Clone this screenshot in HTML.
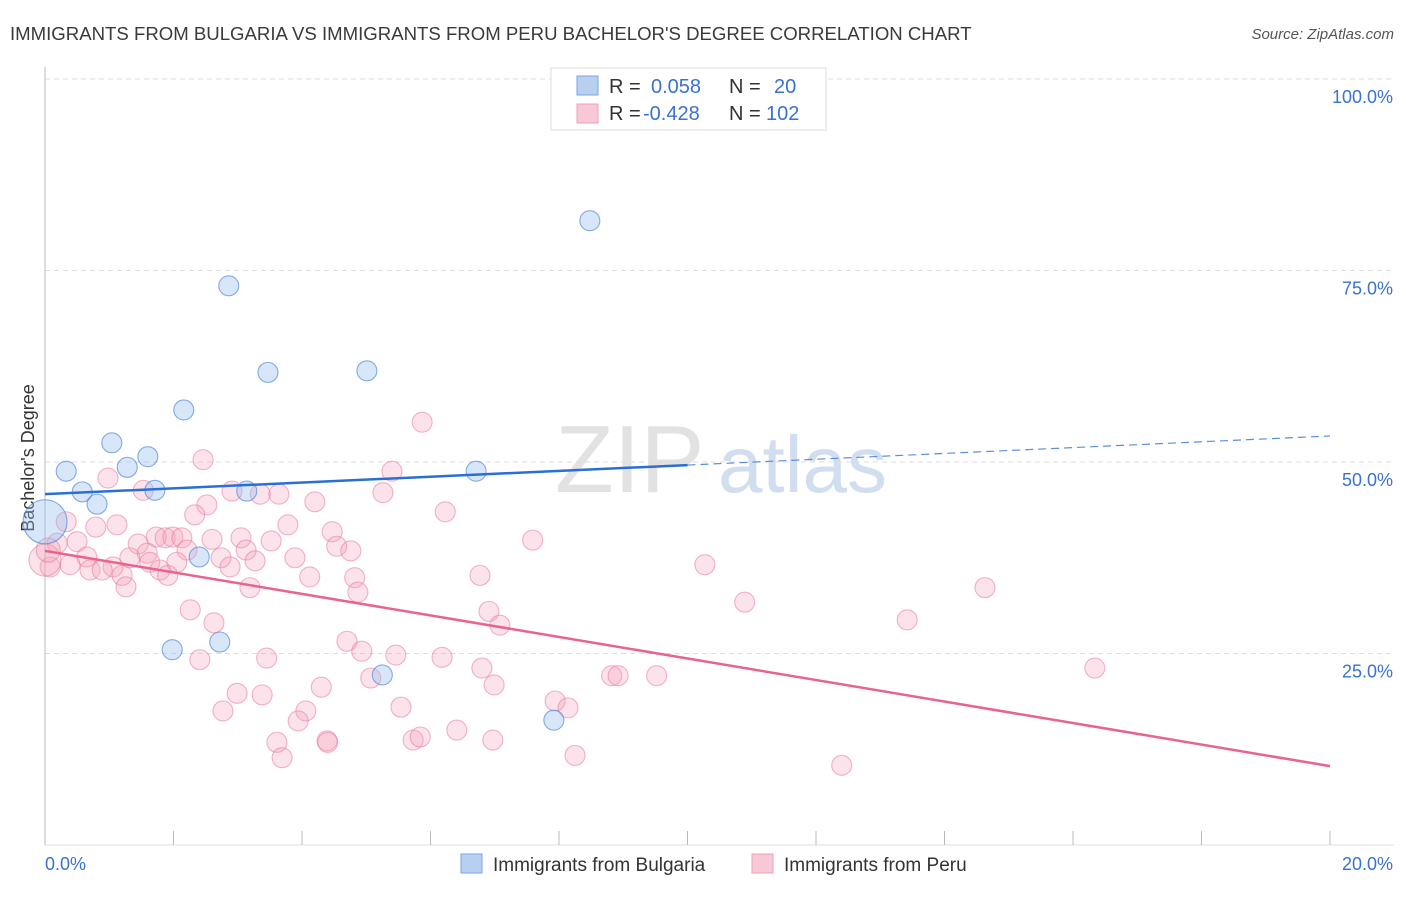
<!DOCTYPE html>
<html><head><meta charset="utf-8"><style>
body{margin:0;background:#fff;font-family:"Liberation Sans",sans-serif}
svg text{font-family:"Liberation Sans",sans-serif}
</style></head><body>
<svg id="chart" width="1406" height="892" xmlns="http://www.w3.org/2000/svg">
<text x="10" y="40" font-size="18.6" fill="#3a3a3a">IMMIGRANTS FROM BULGARIA VS IMMIGRANTS FROM PERU BACHELOR'S DEGREE CORRELATION CHART</text>
<text x="1394" y="39" font-size="15" fill="#555" text-anchor="end" font-style="italic">Source: ZipAtlas.com</text>
<text x="555" y="492" font-size="96" fill="#e2e2e2" font-family="Liberation Serif">ZIP</text>
<text x="718" y="492" font-size="80" fill="#d0def0">atlas</text>
<text transform="translate(34,458) rotate(-90)" font-size="18" fill="#333" text-anchor="middle">Bachelor's Degree</text>
<g id="grid"></g><g id="axes"></g><g id="pts"></g><g id="lines"></g>
<g>
<rect x="551" y="68" width="275" height="62" fill="#fff" stroke="#ddd"/>
<rect x="577" y="76" width="21" height="19" fill="#b8d0f0" stroke="#7aa6de"/>
<rect x="577" y="104" width="21" height="19" fill="#f9c8d6" stroke="#eea0b8"/>
<text x="609" y="93" font-size="20" fill="#333">R = </text><text x="651" y="93" font-size="20" fill="#3a72d0">0.058</text>
<text x="729" y="93" font-size="20" fill="#333">N = </text><text x="774" y="93" font-size="20" fill="#3a72d0">20</text>
<text x="609" y="120" font-size="20" fill="#333">R = </text><text x="643" y="120" font-size="20" fill="#3a72d0">-0.428</text>
<text x="729" y="120" font-size="20" fill="#333">N = </text><text x="766" y="120" font-size="20" fill="#3a72d0">102</text>
</g>
<g>
<rect x="461" y="854" width="21" height="19" fill="#b8d0f0" stroke="#7aa6de"/>
<text x="493" y="871" font-size="19" fill="#333">Immigrants from Bulgaria</text>
<rect x="752" y="854" width="21" height="19" fill="#f9c8d6" stroke="#eea0b8"/>
<text x="784" y="871" font-size="19" fill="#333">Immigrants from Peru</text>
</g>
</svg>
<script>
const blueX=[0.33,0.58,0.81,1.04,1.28,1.60,1.71,2.16,2.40,1.98,2.72,2.86,3.14,3.47,5.01,5.25,6.71,7.92,8.48,0.0];
const blueY=[48.8,46.1,44.5,52.5,49.3,50.7,46.3,56.8,37.6,25.5,26.5,73.0,46.2,61.7,61.9,22.2,48.8,16.3,81.5,42.2];
const pinkX=[2.46,0.98,1.53,2.91,3.35,3.64,4.20,5.40,5.26,6.23,2.52,2.33,0.33,0.79,1.12,3.78,4.47,2.60,3.05,3.52,4.54,4.76,1.73,1.87,1.99,2.13,1.45,0.50,0.19,2.21,1.59,1.32,3.13,2.74,3.27,3.89,2.88,2.05,1.63,1.06,0.65,0.39,0.08,0.70,0.89,1.20,1.79,1.91,1.26,4.12,4.82,4.87,3.19,2.26,2.63,4.70,4.93,5.46,6.18,2.41,3.45,5.07,4.30,2.99,3.38,5.54,4.06,3.94,2.77,6.41,5.73,5.84,3.61,4.39,4.40,3.69,5.87,7.59,6.77,6.91,7.08,6.99,6.80,6.97,7.94,8.14,8.25,8.82,8.92,9.52,10.27,10.89,12.40,13.42,14.63,16.34,0.0,0.05];
const pinkY=[50.3,47.9,46.3,46.2,45.8,45.8,44.8,48.8,46.0,43.5,44.4,43.1,42.2,41.5,41.8,41.8,40.9,39.9,40.1,39.7,39.0,38.4,40.2,40.1,40.2,40.1,39.3,39.6,39.4,38.5,38.1,37.5,38.5,37.5,37.1,37.5,36.3,36.9,36.9,36.3,37.6,36.6,36.3,35.9,35.9,35.2,35.9,35.2,33.7,35.0,34.9,33.0,33.6,30.7,29.0,26.6,25.3,24.8,24.5,24.2,24.4,21.8,20.6,19.8,19.6,18.0,17.5,16.2,17.5,15.0,13.7,14.1,13.4,13.6,13.4,11.4,55.2,39.8,35.2,30.5,28.7,20.9,23.1,13.7,18.8,17.9,11.7,22.1,22.1,22.1,36.6,31.7,10.4,29.4,33.6,23.1,37.2,38.5];
const yTicks=[25,50,75,100];
const xTicks=[0,2,4,6,8,10,12,14,16,18,20];
const blueTrend=[45.8,53.4];
const pinkTrend=[38.4,10.3];
const NS='http://www.w3.org/2000/svg';
const X=v=>45+v/20*1285, Y=v=>845-v/100*766;
function mk(tag,attrs,parent){const e=document.createElementNS(NS,tag);for(const k in attrs)e.setAttribute(k,attrs[k]);document.getElementById(parent).appendChild(e);return e;}
yTicks.forEach(t=>{
 const l=mk('line',{x1:45,x2:1394,y1:Y(t),y2:Y(t),stroke:'#ddd','stroke-dasharray':'5,4'},'grid');
 
 
 const tx=mk('text',{x:1393,y:Y(t)+24,'font-size':18,fill:'#3a72d0','text-anchor':'end'},'grid');
 tx.textContent=t.toFixed(1)+'%';
 
 
});
const ax=mk('line',{x1:45,x2:45,y1:67,y2:845,stroke:'#bbb'},'axes');


const bx=mk('line',{x1:45,x2:1394,y1:845,y2:845,stroke:'#ddd'},'axes');


xTicks.forEach(t=>{
 const l=mk('line',{x1:X(t),x2:X(t),y1:831,y2:845,stroke:'#bbb'},'axes');
 
 
});
[[0,'start',45],[20,'end',1393]].forEach(([t,a,px])=>{
 const tx=mk('text',{x:px,y:870,'font-size':18,fill:'#3a72d0','text-anchor':a},'axes');
 tx.textContent=t.toFixed(1)+'%';
 
 
});
pinkX.forEach((x,i)=>{
 const big=i>=pinkX.length-2;
 const c=mk('circle',{cx:X(x),cy:Y(pinkY[i]),r:big?(i==pinkX.length-2?16:12):10,fill:'rgba(244,160,186,0.3)',stroke:'rgba(232,120,155,0.55)','stroke-width':1.1},'pts');
 
 
});
blueX.forEach((x,i)=>{
 const big=i==blueX.length-1;
 const c=mk('circle',{cx:X(x),cy:Y(blueY[i]),r:big?22:10,fill:'rgba(150,188,240,0.38)',stroke:'rgba(70,130,215,0.65)','stroke-width':1.1},'pts');
 
 
});
const by=x=>blueTrend[0]+(blueTrend[1]-blueTrend[0])*x/20;
const b1=mk('line',{x1:X(0),y1:Y(by(0)),x2:X(10),y2:Y(by(10)),stroke:'#2a6fd6','stroke-width':2.5},'lines');


const b2=mk('line',{x1:X(10),y1:Y(by(10)),x2:X(20),y2:Y(by(20)),stroke:'#5a8fdc','stroke-width':1.2,'stroke-dasharray':'8,5'},'lines');


const p1=mk('line',{x1:X(0),y1:Y(pinkTrend[0]),x2:X(20),y2:Y(pinkTrend[1]),stroke:'#e8648e','stroke-width':2.5},'lines');


</script>
</body></html>
